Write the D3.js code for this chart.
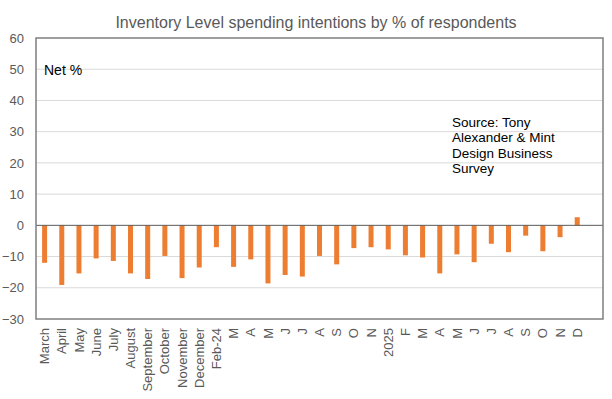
<!DOCTYPE html>
<html><head><meta charset="utf-8">
<script src="https://cdn.jsdelivr.net/npm/d3@7"></script>
<style>html,body{margin:0;padding:0;background:#fff;}svg{display:block;}</style>
</head><body>
<svg id="c" width="612" height="399"></svg>
<script>
const categories = ["March","April","May","June","July","August","September","October","November","December","Feb-24","M","A","M","J","J","A","S","O","N","2025","F","M","A","M","J","J","A","S","O","N","D"];
const values = [-12.0,-19.1,-15.4,-10.6,-11.4,-15.4,-17.2,-9.8,-16.9,-13.5,-7.0,-13.3,-10.9,-18.6,-15.9,-16.4,-9.8,-12.5,-7.3,-7.0,-7.7,-9.6,-10.3,-15.4,-9.3,-11.8,-5.9,-8.6,-3.3,-8.3,-3.8,2.6];
const yTicks = [60,50,40,30,20,10,0,-10,-20,-30];
const title = "Inventory Level spending intentions by % of respondents";
const sourceLines = ["Source: Tony","Alexander & Mint","Design Business","Survey"];
const slots = 33; // one empty slot at the end of the axis

const svg = d3.select("#c");
const font = "'Liberation Sans', Arial, sans-serif";
const L = 36, R = 603, T = 38, B = 319;
const x = d3.scaleBand().domain(d3.range(slots)).range([L, R]);
const y = d3.scaleLinear().domain([-30, 60]).range([B, T]);

// gridlines
svg.append("g").selectAll("line").data(yTicks.filter(t => t !== 0 && t !== 60 && t !== -30)).join("line")
  .attr("x1", L).attr("x2", R).attr("y1", d => y(d)).attr("y2", d => y(d))
  .attr("stroke", "#d9d9d9").attr("stroke-width", 1);

// y axis labels
const yAxis = d3.axisLeft(y).tickValues(yTicks).tickSize(0).tickPadding(12);
const ya = svg.append("g").attr("transform", `translate(${L},0)`).call(yAxis);
ya.select(".domain").remove();
ya.selectAll("text").attr("font-family", font).attr("font-size", 13).attr("fill", "#595959");

// bars
const bw = 5;
svg.append("g").selectAll("rect").data(values).join("rect")
  .attr("x", (d, i) => x(i) + x.bandwidth() / 2 - bw / 2)
  .attr("width", bw)
  .attr("y", d => y(Math.max(0, d)))
  .attr("height", d => Math.abs(y(d) - y(0)))
  .attr("fill", "#ED7D31");

// zero line
svg.append("line").attr("x1", L).attr("x2", R).attr("y1", y(0)).attr("y2", y(0))
  .attr("stroke", "#595959").attr("stroke-width", 1);

// plot border
svg.append("rect").attr("x", L).attr("y", T).attr("width", R - L).attr("height", B - T)
  .attr("fill", "none").attr("stroke", "#7f7f7f").attr("stroke-width", 1.5);

// x labels
const xAxis = d3.axisBottom(x).tickFormat(i => categories[i] || "").tickSize(0).tickPadding(0);
const xa = svg.append("g").attr("transform", `translate(0,${B})`).call(xAxis);
xa.select(".domain").remove();
xa.selectAll("text")
  .attr("font-family", font).attr("font-size", 13).attr("fill", "#595959")
  .attr("transform", "rotate(-90)")
  .attr("text-anchor", "end").attr("dy", "0.35em").attr("y", 0).attr("x", -9);

// title
svg.append("text").attr("x", 316).attr("y", 28).attr("text-anchor", "middle")
  .attr("font-family", font).attr("font-size", 16).attr("fill", "#595959").text(title);

// Net %
svg.append("text").attr("x", 44).attr("y", 75)
  .attr("font-family", font).attr("font-size", 14).attr("fill", "#000").text("Net %");

// source
const st = svg.append("text").attr("font-family", font).attr("font-size", 13.5).attr("fill", "#000");
sourceLines.forEach((s, i) => st.append("tspan").attr("x", 452).attr("y", 127 + i * 15.4).text(s));
</script>
</body></html>
